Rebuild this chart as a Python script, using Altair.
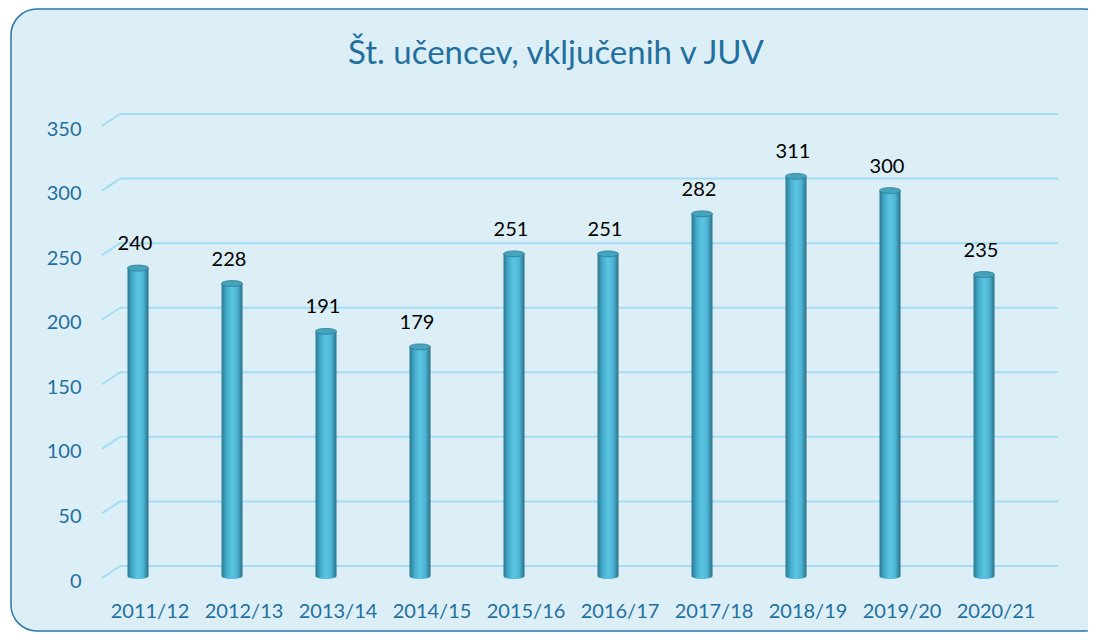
import altair as alt
import pandas as pd

years = ["2011/12", "2012/13", "2013/14", "2014/15", "2015/16",
         "2016/17", "2017/18", "2018/19", "2019/20", "2020/21"]
values = [240, 228, 191, 179, 251, 251, 282, 311, 300, 235]
ticks = [0, 50, 100, 150, 200, 250, 300, 350]
title_text = "Št. učencev, vključenih v JUV"

df = pd.DataFrame({"year": years, "value": values})
gdf = pd.DataFrame({"t": ticks})
one = pd.DataFrame({"a": [0]})

W, H = 940, 452
PL, PT, PR, PB = 95, 118, 45, 54
BLUE = "#1F6FA0"
FONT = "Lato"

xs = alt.Scale(domain=years, paddingInner=0, paddingOuter=0)
ys = alt.Scale(domain=[0, 350], nice=False)

yaxis = alt.Axis(title=None, domain=False, ticks=False, grid=False,
                 values=ticks, labelColor=BLUE, labelFont=FONT,
                 labelFontSize=20, labelPadding=22, labelOffset=3, zindex=2)
xaxis = alt.Axis(title=None, domain=False, ticks=False,
                 labelColor=BLUE, labelFont=FONT, labelFontSize=20,
                 labelPadding=23, labelAngle=0, zindex=2)

frame = alt.Chart(one).mark_rect(
    fill="#DDEFF6", stroke="#2A76A6", strokeWidth=1.5, cornerRadius=26
).encode(
    x=alt.value(11 - 8 - PL), x2=alt.value(1110 - 8 - PL),
    y=alt.value(8 - 8 - PT + 1), y2=alt.value(631 - 8 - PT)
)

title = alt.Chart(one).mark_text(
    text=title_text, font=FONT, fontSize=33, color=BLUE,
    align="center", baseline="alphabetic"
).encode(x=alt.value(556 - 8 - PL), y=alt.value(64 - 8 - PT))

grid_back = alt.Chart(gdf).mark_rule(
    color="#A3DCF5", strokeWidth=2, yOffset=-12, y2Offset=-12
).encode(
    x=alt.value(17), x2=alt.value(955),
    y=alt.Y("t:Q", scale=ys, axis=yaxis)
)

grid_slant = alt.Chart(gdf).mark_rule(
    color="#A3DCF5", strokeWidth=2, y2Offset=-12
).encode(
    x=alt.value(-1), x2=alt.value(17),
    y=alt.Y("t:Q", scale=ys, axis=yaxis), y2="t:Q"
)

grad = alt.Gradient(
    gradient="linear", x1=0, x2=1, y1=0, y2=0,
    stops=[
        alt.GradientStop(color="#2B7892", offset=0),
        alt.GradientStop(color="#45AECC", offset=0.25),
        alt.GradientStop(color="#5CC5E3", offset=0.5),
        alt.GradientStop(color="#4DB5D3", offset=0.75),
        alt.GradientStop(color="#2A7089", offset=1),
    ],
)

base = alt.Chart(df).encode(
    x=alt.X("year:N", scale=xs, sort=years, axis=xaxis),
)

bars = base.mark_bar(size=21, fill=grad, xOffset=-12, y2Offset=-2).encode(
    y=alt.Y("value:Q", scale=ys, axis=yaxis),
    y2=alt.datum(0),
)

ELL = "M -1 0 A 1 0.28 0 1 1 1 0 A 1 0.28 0 1 1 -1 0 Z"

bottoms = base.mark_point(
    shape=ELL, size=441, filled=True, fill=grad, opacity=1,
    xOffset=-12, yOffset=-2, strokeWidth=0
).encode(y=alt.datum(0))

tops = base.mark_point(
    shape=ELL, size=441, filled=True, fill="#46A3BE", stroke="#2C7F98",
    strokeWidth=0.8, opacity=1, xOffset=-12
).encode(y=alt.Y("value:Q", scale=ys, axis=yaxis))

labels = base.mark_text(
    font=FONT, fontSize=20, color="#000000", dy=-24, xOffset=-15
).encode(y=alt.Y("value:Q", scale=ys, axis=yaxis), text="value:Q")

chart = alt.layer(
    frame, title, grid_slant, grid_back, bars, bottoms, tops, labels
).properties(
    width=W, height=H,
    autosize=alt.AutoSizeParams(type="none"),
    padding={"left": PL, "top": PT, "right": PR, "bottom": PB},
    background="white",
).configure_view(stroke=None)

chart.save("out.html", embed_options={"renderer": "svg", "actions": False})
